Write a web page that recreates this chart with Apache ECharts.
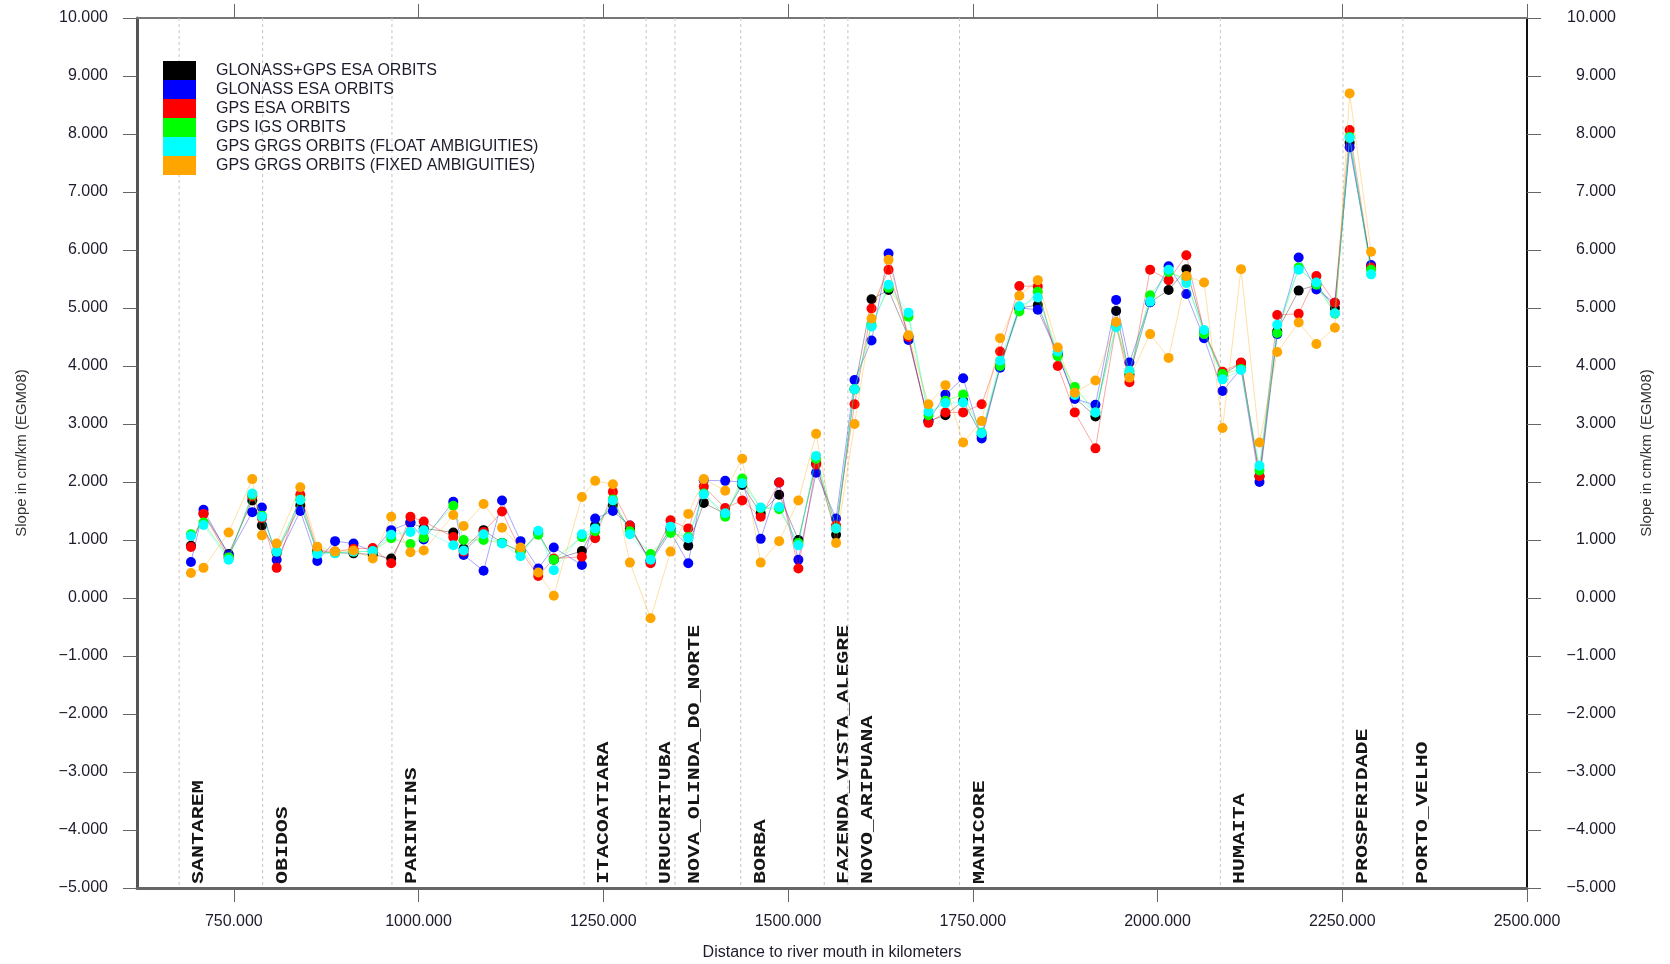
<!DOCTYPE html>
<html>
<head>
<meta charset="utf-8">
<title>Slope along the river</title>
<script src="https://cdn.jsdelivr.net/npm/echarts@6.0.0/dist/echarts.min.js"></script>
<style>
	html, body { margin: 0; padding: 0; background: #fff; }
	#chart { width: 1670px; height: 964px; }
</style>
</head>
<body>
<div id="chart"></div>
<script>
// distance to river mouth (km) of every sample
var distKm = [692, 709, 743, 775, 788, 808, 840, 863, 887, 912, 938, 963, 989, 1007, 1047, 1061, 1088, 1113, 1138, 1162,
	1183, 1221, 1239, 1263, 1286, 1314, 1341, 1365, 1386, 1415, 1438, 1463, 1488, 1514, 1538, 1565, 1590, 1613, 1636, 1663,
	1690, 1713, 1737, 1762, 1787, 1813, 1838, 1865, 1888, 1916, 1944, 1962, 1990, 2015, 2039, 2063, 2088, 2113, 2138, 2162,
	2191, 2215, 2240, 2260, 2289];

// slope in cm/km per orbit solution
var glonassGpsEsa = [0.90, 1.46, 0.76, 1.68, 1.25, 0.78, 1.60, 0.80, 0.78, 0.77, 0.75, 0.68, 1.30, 1.20, 1.13, 0.85, 1.17, 0.95, 0.80, 1.12,
	0.66, 0.81, 1.25, 1.60, 1.20, 0.65, 1.20, 0.90, 1.64, 1.45, 1.95, 1.46, 1.78, 1.00, 2.32, 1.09, 3.60, 5.15, 5.31, 4.50,
	3.05, 3.15, 3.40, 2.80, 4.00, 5.00, 5.05, 4.20, 3.45, 3.13, 4.95, 3.85, 5.10, 5.31, 5.67, 4.60, 3.85, 4.05, 2.10, 4.60,
	5.30, 5.40, 5.00, 7.85, 5.70];
var glonassEsa = [0.62, 1.52, 0.74, 1.48, 1.56, 0.66, 1.50, 0.64, 0.98, 0.94, 0.80, 1.17, 1.30, 1.01, 1.66, 0.74, 0.47, 1.68, 0.98, 0.51,
	0.87, 0.57, 1.37, 1.50, 1.25, 0.62, 1.14, 0.60, 2.03, 2.02, 2.00, 1.02, 1.99, 0.66, 2.16, 1.37, 3.76, 4.44, 5.94, 4.45,
	3.05, 3.51, 3.79, 2.75, 3.97, 5.00, 4.97, 4.20, 3.43, 3.33, 5.14, 4.06, 5.10, 5.72, 5.24, 4.48, 3.57, 3.95, 2.00, 4.55,
	5.87, 5.32, 5.09, 7.77, 5.74];
var gpsEsa = [0.88, 1.45, 0.70, 1.75, 1.38, 0.52, 1.78, 0.82, 0.80, 0.85, 0.86, 0.60, 1.40, 1.32, 1.05, 0.80, 1.14, 1.49, 0.82, 0.38,
	0.68, 0.71, 1.03, 1.83, 1.25, 0.60, 1.34, 1.20, 1.92, 1.55, 1.68, 1.40, 1.99, 0.51, 2.30, 1.25, 3.34, 4.99, 5.66, 4.50,
	3.02, 3.20, 3.20, 3.34, 4.25, 5.38, 5.37, 4.00, 3.20, 2.58, 4.70, 3.72, 5.66, 5.48, 5.91, 4.60, 3.90, 4.06, 2.10, 4.88,
	4.90, 5.55, 5.09, 8.07, 5.70];
var gpsIgs = [1.10, 1.30, 0.70, 1.78, 1.42, 0.80, 1.70, 0.78, 0.78, 0.80, 0.80, 1.03, 0.93, 1.04, 1.59, 1.00, 1.00, 0.95, 0.80, 1.09,
	0.66, 1.05, 1.15, 1.70, 1.15, 0.76, 1.12, 1.05, 1.80, 1.40, 2.06, 1.55, 1.53, 0.95, 2.40, 1.20, 3.60, 4.70, 5.35, 4.85,
	3.15, 3.40, 3.51, 2.85, 4.00, 4.94, 5.28, 4.17, 3.64, 3.20, 4.70, 3.90, 5.22, 5.62, 5.50, 4.55, 3.86, 3.95, 2.20, 4.57,
	5.70, 5.40, 4.90, 7.95, 5.66];
var grgsFloat = [1.07, 1.26, 0.66, 1.80, 1.40, 0.80, 1.69, 0.76, 0.77, 0.80, 0.81, 1.09, 1.14, 1.17, 0.91, 0.82, 1.10, 0.94, 0.72, 1.16,
	0.48, 1.10, 1.20, 1.68, 1.10, 0.66, 1.23, 1.03, 1.79, 1.46, 1.98, 1.56, 1.57, 0.91, 2.45, 1.20, 3.60, 4.68, 5.40, 4.92,
	3.21, 3.36, 3.37, 2.84, 4.09, 5.03, 5.18, 4.25, 3.50, 3.20, 4.67, 3.92, 5.11, 5.66, 5.43, 4.62, 3.77, 3.93, 2.28, 4.71,
	5.66, 5.44, 4.91, 7.93, 5.58];
var grgsFixed = [0.43, 0.52, 1.13, 2.05, 1.08, 0.94, 1.91, 0.885, 0.80, 0.82, 0.68, 1.40, 0.79, 0.82, 1.43, 1.24, 1.62, 1.21, 0.87, 0.44,
	0.04, 1.74, 2.02, 1.96, 0.61, -0.35, 0.80, 1.45, 2.05, 1.85, 2.40, 0.61, 0.98, 1.68, 2.83, 0.95, 3.00, 4.82, 5.83, 4.53,
	3.34, 3.67, 2.68, 3.05, 4.48, 5.21, 5.48, 4.32, 3.54, 3.75, 4.76, 3.80, 4.55, 4.14, 5.55, 5.44, 2.93, 5.67, 2.68, 4.24,
	4.75, 4.38, 4.66, 8.70, 5.97];

// gauging stations along the river
var stationNames = ['SANTAREM', 'OBIDOS', 'PARINTINS', 'ITACOATIARA', 'URUCURITUBA', 'NOVA_OLINDA_DO_NORTE', 'BORBA',
	'FAZENDA_VISTA_ALEGRE', 'NOVO_ARIPUANA', 'MANICORE', 'HUMAITA', 'PROSPERIDADE', 'PORTO_VELHO'];
var stationKm = [676, 789, 964, 1224, 1308, 1347, 1436, 1549, 1581, 1732, 2085, 2251, 2332];

// axis ticks
var xTicks = [750, 1000, 1250, 1500, 1750, 2000, 2250, 2500];
var xMin = 619, xMax = 2500;
var yMin = -5, yMax = 10;

var seriesNames = ['GLONASS+GPS ESA ORBITS', 'GLONASS ESA ORBITS', 'GPS ESA ORBITS', 'GPS IGS ORBITS',
	'GPS GRGS ORBITS (FLOAT AMBIGUITIES)', 'GPS GRGS ORBITS (FIXED AMBIGUITIES)'];
var seriesValues = [glonassGpsEsa, glonassEsa, gpsEsa, gpsIgs, grgsFloat, grgsFixed];
var seriesColors = ['#000000', '#0000ff', '#ff0000', '#00ff00', '#00ffff', '#ffa500'];

var chart = echarts.init(document.getElementById('chart'));

var textColor = '#1c1c2c';
var fontFamily = '"Liberation Sans", Arial, sans-serif';

function fmtNum(v) {
	var s = Math.abs(v).toFixed(3);
	return v < 0 ? '\u2212' + s : s;
}

function pairUp(values) {
	var out = [];
	for(var i = 0; i < distKm.length; i++) {
		out.push([distKm[i], values[i]]);
	}
	return out;
}

//station line + rotated name
function renderStation(params, api) {
	var km = api.value(0);
	var top = api.coord([km, yMax]);
	var bot = api.coord([km, yMin]);
	return {
		type: 'group',
		children: [{
			type: 'line',
			shape: { x1: top[0], y1: top[1], x2: bot[0], y2: bot[1] },
			style: { stroke: '#c4c4c4', lineWidth: 1, lineDash: [3, 3] }
		}, {
			type: 'text',
			x: bot[0] + 20,
			y: bot[1] - 4,
			rotation: Math.PI / 2,
			scaleX: 1.35,
			style: {
				text: stationNames[params.dataIndex],
				font: 'bold 16px "Liberation Mono", "Courier New", monospace',
				fill: '#161616',
				align: 'left',
				verticalAlign: 'middle'
			}
		}]
	};
}

var series = [{
	type: 'custom',
	name: 'stations',
	coordinateSystem: 'cartesian2d',
	renderItem: renderStation,
	data: stationKm.map(function(k) { return [k]; }),
	encode: { x: 0 },
	clip: false,
	silent: true,
	z: 1
}];

for(var s = 0; s < seriesNames.length; s++) {
	series.push({
		type: 'line',
		name: seriesNames[s],
		data: pairUp(seriesValues[s]),
		symbol: 'circle',
		symbolSize: 10,
		showSymbol: true,
		animation: false,
		itemStyle: { color: seriesColors[s], opacity: 1 },
		lineStyle: { color: seriesColors[s], width: 1, opacity: 0.35 },
		z: 2 + s
	});
}

var option = {
	backgroundColor: '#ffffff',
	animation: false,
	textStyle: { fontFamily: fontFamily },
	grid: { left: 137, top: 18, width: 1390, height: 870, containLabel: false, outerBoundsMode: 'none' },
	legend: {
		data: seriesNames,
		orient: 'vertical',
		left: 163,
		top: 61,
		padding: 0,
		itemGap: 0,
		itemWidth: 33,
		itemHeight: 19,
		icon: 'rect',
		textStyle: { fontSize: 16, color: textColor, fontFamily: fontFamily, padding: [0, 0, 0, 15] }
	},
	xAxis: [{
		type: 'value',
		position: 'bottom',
		min: xMin,
		max: xMax,
		name: 'Distance to river mouth in kilometers',
		nameLocation: 'middle',
		nameGap: 57,
		nameTextStyle: { fontSize: 16, color: textColor },
		axisLine: { onZero: false, lineStyle: { color: '#666', width: 3 } },
		axisTick: { show: true, length: 14, customValues: xTicks, lineStyle: { color: '#666', width: 1 } },
		axisLabel: { customValues: xTicks, margin: 26, fontSize: 16, color: textColor, formatter: fmtNum },
		splitLine: { show: false }
	}, {
		type: 'value',
		position: 'top',
		min: xMin,
		max: xMax,
		axisLine: { onZero: false, lineStyle: { color: '#777', width: 2 } },
		axisTick: { show: true, length: 14, customValues: xTicks, lineStyle: { color: '#666', width: 1 } },
		axisLabel: { show: false },
		splitLine: { show: false }
	}],
	yAxis: [{
		type: 'value',
		position: 'left',
		min: yMin,
		max: yMax,
		interval: 1,
		name: 'Slope in cm/km (EGM08)',
		nameLocation: 'middle',
		nameRotate: 90,
		nameGap: 108,
		nameTextStyle: { fontSize: 15, color: '#333' },
		axisLine: { show: true, onZero: false, lineStyle: { color: '#555', width: 3 } },
		axisTick: { show: true, length: 14, lineStyle: { color: '#666', width: 1 } },
		axisLabel: { margin: 29, fontSize: 16, color: textColor, formatter: fmtNum },
		splitLine: { show: false }
	}, {
		type: 'value',
		position: 'right',
		min: yMin,
		max: yMax,
		interval: 1,
		name: 'Slope in cm/km (EGM08)',
		nameLocation: 'middle',
		nameRotate: 90,
		nameGap: 112,
		nameTextStyle: { fontSize: 15, color: '#333' },
		axisLine: { show: true, onZero: false, lineStyle: { color: '#111', width: 2 } },
		axisTick: { show: true, length: 14, lineStyle: { color: '#666', width: 1 } },
		axisLabel: { margin: 89, align: 'right', fontSize: 16, color: textColor, formatter: fmtNum },
		splitLine: { show: false }
	}],
	series: series
};

chart.setOption(option);
</script>
</body>
</html>
